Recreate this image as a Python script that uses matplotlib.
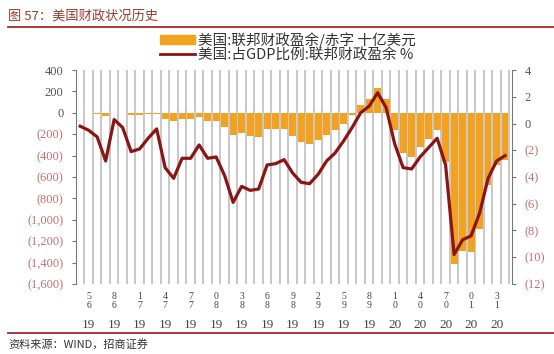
import matplotlib
matplotlib.use("Agg")
import matplotlib.pyplot as plt
from matplotlib.patches import Patch
from matplotlib.lines import Line2D

plt.rcParams['font.family'] = ['Noto Sans CJK SC', 'DejaVu Sans']

# US federal surplus/deficit, fiscal years 1965-2015
years = list(range(1965, 2016))
balance_bn = [-1.4, -3.7, -8.6, -25.2, 3.2, -2.8, -23.0, -23.4, -14.9, -6.1,
              -53.2, -73.7, -53.7, -59.2, -40.7, -73.8, -79.0, -128.0, -207.8, -185.4,
              -212.3, -221.2, -149.7, -155.2, -152.6, -221.0, -269.2, -290.3, -255.1, -203.2,
              -164.0, -107.4, -21.9, 69.3, 125.6, 236.2, 128.2, -157.8, -377.6, -412.7,
              -318.3, -248.2, -160.7, -458.6, -1412.7, -1294.4, -1299.6, -1087.0, -679.5, -484.6,
              -438.5]
balance_pct = [-0.2, -0.5, -1.0, -2.8, 0.3, -0.3, -2.1, -1.9, -1.1, -0.4,
               -3.3, -4.1, -2.6, -2.6, -1.6, -2.6, -2.5, -3.9, -5.9, -4.7,
               -5.0, -4.9, -3.1, -3.0, -2.7, -3.7, -4.4, -4.5, -3.8, -2.8,
               -2.2, -1.3, -0.3, 0.8, 1.3, 2.3, 1.2, -1.5, -3.3, -3.4,
               -2.5, -1.8, -1.1, -3.1, -9.8, -8.7, -8.4, -6.7, -4.1, -2.8,
               -2.4]

# tick labels as printed on the source chart (every third category)
tick_idx = list(range(1, 51, 3))
tick_years = ['1965', '1968', '1971', '1974', '1977', '1980', '1983', '1986', '1989',
              '1992', '1995', '1998', '2001', '2004', '2007', '2010', '2013']

left_ticks = [400, 200, 0, -200, -400, -600, -800, -1000, -1200, -1400, -1600]
right_ticks = [4, 2, 0, -2, -4, -6, -8, -10, -12]

BAR = '#F2A21E'
LINE = '#8B1515'
POS_C = '#555555'
NEG_C = '#C07070'


def fmt(v):
    s = f"{abs(v):,}"
    return f"({s})" if v < 0 else s


fig = plt.figure(figsize=(5.54, 3.54), dpi=100)
ax = fig.add_axes([0.137, 0.198, 0.787, 0.604])
ax2 = ax.twinx()

x = list(range(len(years)))

# vertical grid between categories
for i in range(len(years)):
    ax.axvline(i + 0.5, color='#BDBDBD', lw=1.2, zorder=0)

ax.bar(x, balance_bn, width=0.8, color=BAR, zorder=2)
ax2.plot(x, balance_pct, color=LINE, lw=2.3, zorder=3)

ax.set_xlim(-0.5, 50.8)
ax.set_ylim(-1600, 400)
ax2.set_ylim(-12, 4)

ax.set_yticks(left_ticks)
ax.set_yticklabels([fmt(v) for v in left_ticks], family='Liberation Serif', fontsize=9)
for lbl, v in zip(ax.get_yticklabels(), left_ticks):
    lbl.set_color(NEG_C if v < 0 else POS_C)

ax2.set_yticks(right_ticks)
ax2.set_yticklabels([fmt(v) for v in right_ticks], family='Liberation Serif', fontsize=9)
for lbl, v in zip(ax2.get_yticklabels(), right_ticks):
    lbl.set_color(NEG_C if v < 0 else POS_C)

ax.set_xticks([])
for a in (ax, ax2):
    for s in ('top', 'bottom'):
        a.spines[s].set_visible(False)
    a.tick_params(axis='y', length=3, color='#777777', pad=6)
ax.spines['left'].set_visible(True)
ax.spines['right'].set_visible(False)
ax2.spines['left'].set_visible(False)
ax.spines['left'].set_color('#777777')
ax2.spines['right'].set_color('#777777')

# stacked year labels under the axis
trans = ax.get_xaxis_transform()
for i, y in zip(tick_idx, tick_years):
    ax.text(i, -0.06, y[3], transform=trans, ha='center', va='center',
            fontsize=7, family='Liberation Serif', color='#444444')
    ax.text(i, -0.10, y[2], transform=trans, ha='center', va='center',
            fontsize=7, family='Liberation Serif', color='#444444')
    ax.text(i, -0.19, y[:2], transform=trans, ha='center', va='center',
            fontsize=9.5, family='Liberation Serif', color='#444444')

# legend
handles = [Patch(color=BAR), Line2D([0], [0], color=LINE, lw=2)]
labels = ['美国:联邦财政盈余/赤字 十亿美元', '美国:占GDP比例:联邦财政盈余 %']
fig.legend(handles, labels, loc='upper left', bbox_to_anchor=(0.275, 0.93),
           frameon=False, fontsize=10.5, handlelength=2.4, handleheight=0.5,
           labelspacing=0.0, handletextpad=0.25, borderpad=0, labelcolor='#333333')

# header, rules and source
fig.text(0.015, 0.955, '图 57：美国财政状况历史', fontsize=9.5, color='#9B3B2B',
         va='center', ha='left')
fig.add_artist(Line2D([0.015, 1.0], [0.925, 0.925], color='#A52A2A', lw=1.3))
fig.add_artist(Line2D([0.015, 1.0], [0.06, 0.06], color='#A52A2A', lw=1.3))
fig.text(0.015, 0.028, '资料来源：WIND，招商证券', fontsize=8, color='#333333',
         va='center', ha='left')

fig.savefig('out.png', dpi=100)
